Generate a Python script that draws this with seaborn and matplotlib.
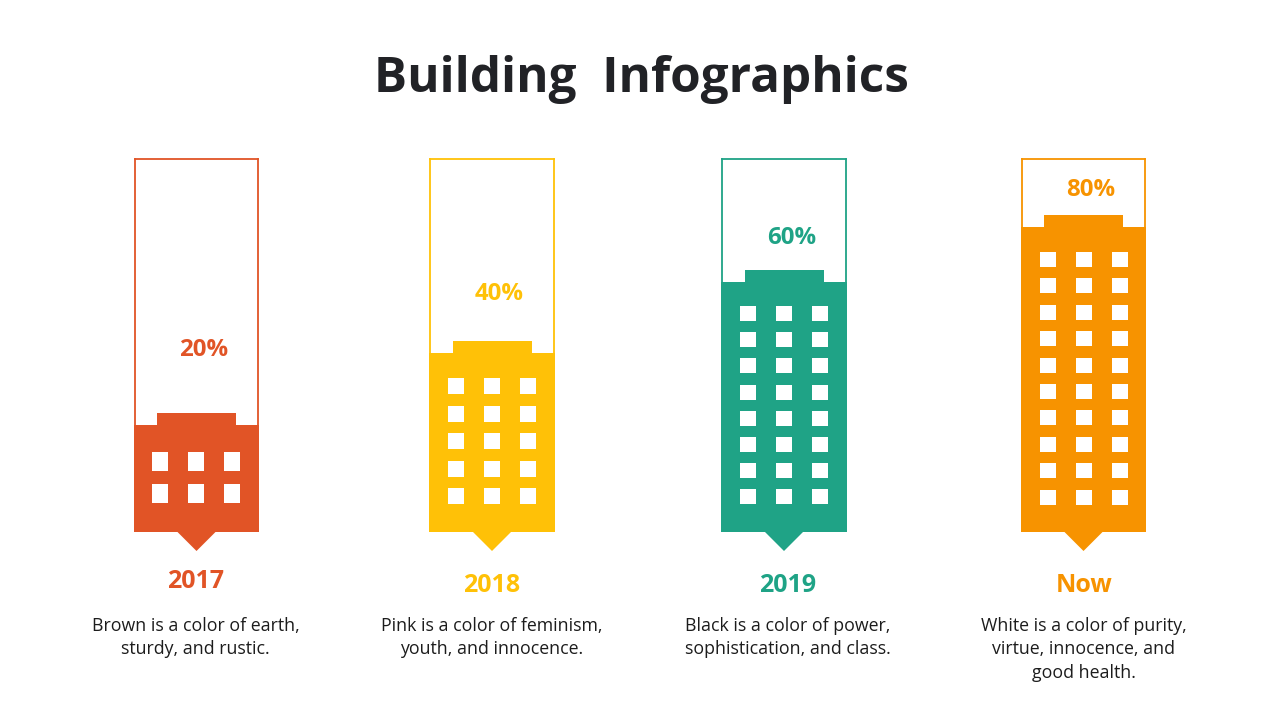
import matplotlib
matplotlib.use("Agg")
import matplotlib.pyplot as plt
from matplotlib.patches import Rectangle, Polygon
import seaborn as sns

sns.set_theme(style="white")
plt.rcParams['font.family'] = ['Open Sans', 'DejaVu Sans']

# --- data -----------------------------------------------------------------
title = "Building  Infographics"
periods = ["2017", "2018", "2019", "Now"]
percent_labels = ["20%", "40%", "60%", "80%"]
# height of each building as a share of its frame
fill_levels = [28.5, 47.9, 67.1, 81.7]
window_rows = [2, 5, 8, 10]
descriptions = [
    "Brown is a color of earth,\nsturdy, and rustic.",
    "Pink is a color of feminism,\nyouth, and innocence.",
    "Black is a color of power,\nsophistication, and class.",
    "White is a color of purity,\nvirtue, innocence, and\ngood health.",
]
colors = ["#E15426", "#FFC107", "#1FA386", "#F79300"]

# --- layout (pixels) ------------------------------------------------------
W, H = 1280, 720
left_edges = [134, 429, 721, 1021]
widths = [125, 126, 126, 125]
frame_top, frame_bottom = 159, 531.5
window_tops = [452, 378, 306, 252]
window_pitch = [32, 27.5, 26.2, 26.4]
window_h = [19, 16, 15, 15]
window_shift = [0, 0, 0, 0.5]
pct_xy = [(203.5, 350), (499.5, 294), (791.5, 238), (1091, 190)]
period_xy = [(196, 581), (492, 585), (788, 585), (1084, 585)]
desc_x = [195.5, 492, 788, 1083.5]

fig = plt.figure(figsize=(W / 100, H / 100), dpi=100, facecolor="white")

# overlay in pixel coordinates for the building details and text
ov = fig.add_axes([0, 0, 1, 1], zorder=5)
ov.set_xlim(0, W)
ov.set_ylim(H, 0)
ov.axis("off")
ov.patch.set_alpha(0)

ov.text(641, 80, title, ha="center", va="center", fontsize=35.6,
        fontweight="bold", color="#212226")

span = frame_bottom - frame_top
for i, period in enumerate(periods):
    L, w, c = left_edges[i], widths[i], colors[i]
    ax = fig.add_axes([(L + 1) / W, 1 - frame_bottom / H,
                       (w - 2) / W, span / H], zorder=1)
    sns.barplot(x=[period], y=[fill_levels[i]], ax=ax, color=c, width=1.0,
                saturation=1, linewidth=0, clip_on=False)
    half = 0.5 * (w - 2) / w
    ax.set_xlim(-half, half)
    ax.set_ylim(0, 100)
    ax.set_xlabel("")
    ax.set_ylabel("")
    ax.set_xticks([])
    ax.set_yticks([])
    ax.patch.set_alpha(0)
    for side, spine in ax.spines.items():
        spine.set_visible(side != "bottom")
        spine.set_color(c)
        spine.set_linewidth(1.3)
        spine.set_capstyle("projecting")
    ax.spines["left"].set_bounds(1, 100)
    ax.spines["right"].set_bounds(1, 100)

    cx = L + w / 2
    top = frame_bottom - span * fill_levels[i] / 100
    # roof
    ov.add_patch(Rectangle((cx - 39.5, top - 12), 79, 12.5, fc=c, ec="none"))
    # pointer
    ov.add_patch(Polygon([(cx - 20, frame_bottom - 0.5), (cx + 20, frame_bottom - 0.5),
                          (cx, frame_bottom + 19.5)], closed=True, fc=c, ec="none"))
    # windows
    for r in range(window_rows[i]):
        y = window_tops[i] + r * window_pitch[i]
        for dx in (-44.5, -8.5, 27.5):
            ov.add_patch(Rectangle((cx + dx + window_shift[i], y), 16, window_h[i],
                                   fc="white", ec="none"))

    ov.text(*pct_xy[i], percent_labels[i], ha="center", va="center",
            fontsize=17.3, fontweight="bold", color=c)
    ov.text(*period_xy[i], period, ha="center", va="center",
            fontsize=18, fontweight="bold", color=c)
    ov.text(desc_x[i], 617, descriptions[i], ha="center", va="top",
            fontsize=12.8, color="#1c1c1c", linespacing=1.38)

fig.savefig("out.png", dpi=100, facecolor="white")
